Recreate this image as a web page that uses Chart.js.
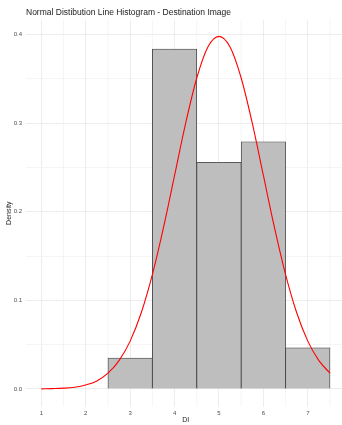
<!DOCTYPE html>
<html>
<head>
<meta charset="utf-8">
<script src="https://cdn.jsdelivr.net/npm/chart.js@4.4.1/dist/chart.umd.min.js"></script>
<style>
  html, body { margin: 0; padding: 0; background: #fff; overflow: hidden; }
  #c { display: block; }
</style>
</head>
<body>
<canvas id="c" width="342" height="425"></canvas>
<script>
// histogram bins (centre of each 1-wide bin) and their density
const binCenters = [3, 4, 5, 6, 7];
const binDensity = [0.0349, 0.3837, 0.2558, 0.2791, 0.0465];

// normal density line
const curveX = [1, 1.25, 1.5, 1.75, 2, 2.25, 2.5, 2.75, 3, 3.25, 3.5, 3.75, 4, 4.25,
  4.5, 4.75, 5, 5.25, 5.5, 5.75, 6, 6.25, 6.5, 6.75, 7, 7.25, 7.5];
const curveDensity = [0.0001, 0.0004, 0.0009, 0.002, 0.0045, 0.009, 0.0178, 0.032, 0.054,
  0.086, 0.129, 0.182, 0.241, 0.300, 0.351, 0.386, 0.398, 0.386, 0.351, 0.300, 0.241,
  0.182, 0.129, 0.086, 0.054, 0.032, 0.0178];

const xTickLabels = ['1', '2', '3', '4', '5', '6', '7'];
const xMinorGrid = [1.5, 2.5, 3.5, 4.5, 5.5, 6.5, 7.5];
const yTickLabels = ['0.0', '0.1', '0.2', '0.3', '0.4'];

const titleText = 'Normal Distibution Line Histogram - Destination Image';

// minor vertical grid lines (kept out of the tick list so bar widths stay 1 unit)
const minorGridPlugin = {
  id: 'minorGrid',
  beforeDatasetsDraw(chart) {
    const ctx = chart.ctx;
    const a = chart.chartArea;
    const x = chart.scales.x;
    ctx.save();
    ctx.strokeStyle = '#f2f2f2';
    ctx.lineWidth = 0.8;
    xMinorGrid.forEach(v => {
      const px = x.getPixelForValue(v);
      ctx.beginPath();
      ctx.moveTo(px, a.top);
      ctx.lineTo(px, a.bottom);
      ctx.stroke();
    });
    ctx.restore();
  }
};

const textPlugin = {
  id: 'texts',
  afterDraw(chart) {
    const ctx = chart.ctx;
    const a = chart.chartArea;
    ctx.save();
    ctx.fillStyle = '#1a1a1a';
    ctx.font = "8.5px 'Liberation Sans', Arial, sans-serif";
    ctx.textAlign = 'left';
    ctx.textBaseline = 'middle';
    ctx.fillText(titleText, 26, 13);

    ctx.font = "7px 'Liberation Sans', Arial, sans-serif";
    ctx.textAlign = 'center';
    ctx.fillText('DI', chart.scales.x.getPixelForValue(4.25), 420);
    ctx.translate(9, (a.top + a.bottom) / 2);
    ctx.rotate(-Math.PI / 2);
    ctx.fillText('Density', 0, 0);
    ctx.restore();
  }
};

const isMajor = (v, step) => Math.abs(v / step - Math.round(v / step)) < 1e-6;
const gridColor = step => c => (c.tick && !isMajor(c.tick.value, step)) ? '#f2f2f2' : '#e8e8e8';

new Chart(document.getElementById('c'), {
  data: {
    datasets: [
      {
        type: 'line',
        data: curveX.map((x, i) => ({ x, y: curveDensity[i] })),
        borderColor: '#ff0000',
        borderWidth: 1.1,
        pointRadius: 0,
        tension: 0.4,
        cubicInterpolationMode: 'monotone',
        order: 0,
      },
      {
        type: 'bar',
        data: binCenters.map((x, i) => ({ x, y: binDensity[i] })),
        backgroundColor: '#bebebe',
        borderColor: '#3a3a3a',
        borderWidth: 0.8,
        barPercentage: 1,
        categoryPercentage: 1,
        order: 1,
      },
    ],
  },
  options: {
    responsive: false,
    animation: false,
    layout: { padding: { top: 20, right: 0, left: 0, bottom: 0 } },
    plugins: { legend: { display: false }, tooltip: { enabled: false }, title: { display: false } },
    scales: {
      x: {
        type: 'linear',
        offset: false,
        min: 0.655,
        max: 7.77,
        afterFit: s => { s.height = 18.5; },
        border: { display: false },
        grid: { offset: false, drawTicks: false, color: '#e8e8e8', lineWidth: 0.8 },
        ticks: {
          stepSize: 1,
          includeBounds: false,
          autoSkip: false,
          maxRotation: 0,
          padding: 3,
          color: '#4d4d4d',
          font: { family: "'Liberation Sans', Arial, sans-serif", size: 6 },
          callback: v => xTickLabels[Math.round(v) - 1],
        },
      },
      y: {
        type: 'linear',
        min: -0.0198,
        max: 0.4165,
        afterFit: s => { s.width = 26; },
        border: { display: false },
        grid: { drawTicks: false, color: gridColor(0.1), lineWidth: 0.8 },
        ticks: {
          stepSize: 0.05,
          includeBounds: false,
          autoSkip: false,
          padding: 4,
          color: '#4d4d4d',
          font: { family: "'Liberation Sans', Arial, sans-serif", size: 6 },
          callback: v => isMajor(v, 0.1) ? yTickLabels[Math.round(v * 10)] : '',
        },
      },
    },
  },
  plugins: [minorGridPlugin, textPlugin],
});
</script>
</body>
</html>
